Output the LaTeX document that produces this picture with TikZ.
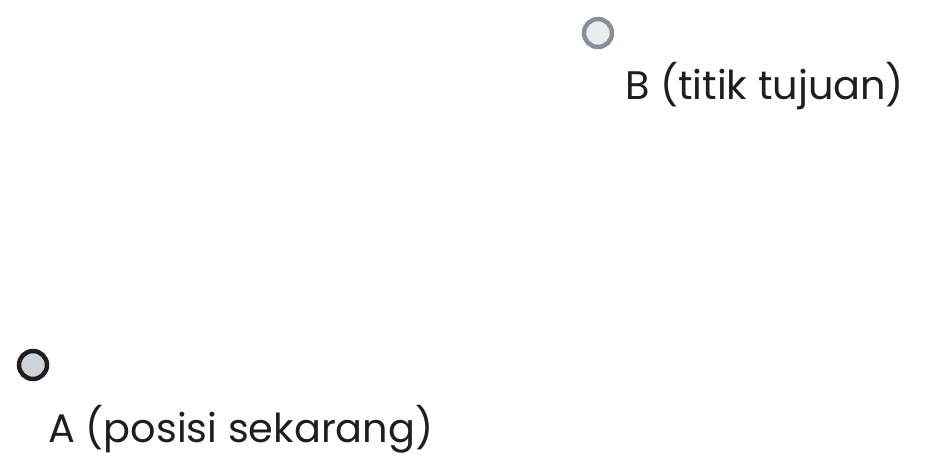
\documentclass[tikz,border=0pt]{standalone}
\usepackage{fontspec}
\setmainfont{Poppins}
\definecolor{ink}{HTML}{1E1E1E}
\definecolor{fillA}{HTML}{CED4DA}
\definecolor{grayB}{HTML}{868E96}
\definecolor{fillB}{HTML}{E9ECEF}
\begin{document}
\begin{tikzpicture}[x=1bp,y=-1bp,
  pt/.style={circle,minimum size=28bp,inner sep=0pt,line width=4.5bp},
  lbl/.style={anchor=base west,inner sep=0pt,text=ink,font=\fontsize{40}{48}\selectfont}]
\useasboundingbox (0,0) rectangle (951,468);
\node[pt,draw=ink,fill=fillA] (A) at (33,365) {};
\node[pt,draw=grayB,fill=fillB] (B) at (598,33) {};
\node[lbl] (tA) at (48,442) {A (posisi sekarang)};
\node[lbl] (tB) at (625,100) {B (titik tujuan)};
\end{tikzpicture}
\end{document}
